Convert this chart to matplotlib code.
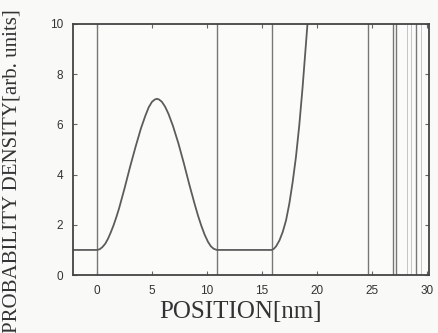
import matplotlib.pyplot as plt

# curve (position in nm, probability density)
pos = [-2.2, 0.0, 0.25, 0.5, 0.75, 1.0, 1.25, 1.5, 1.75, 2.0, 2.5, 3.0, 3.5, 4.0,
       4.4, 4.7, 5.0, 5.25, 5.45, 5.65, 5.9, 6.2, 6.5, 6.9, 7.4, 7.9, 8.4, 8.9,
       9.2, 9.5, 9.8, 10.1, 10.35, 10.6, 10.9,
       15.9, 16.1, 16.3, 16.6, 16.9, 17.2, 17.5, 17.8, 18.1, 18.4, 18.7, 19.15]
dens = [1.0, 1.0, 1.03, 1.12, 1.25, 1.45, 1.70, 1.98, 2.30, 2.65, 3.45, 4.30, 5.10, 5.85,
        6.35, 6.68, 6.90, 6.99, 7.02, 6.99, 6.90, 6.70, 6.42, 5.95, 5.25, 4.45, 3.60, 2.80,
        2.35, 1.95, 1.60, 1.32, 1.15, 1.05, 1.0,
        1.0, 1.05, 1.15, 1.38, 1.72, 2.18, 2.85, 3.70, 4.70, 5.95, 7.45, 10.0]

# layer boundaries
walls = [0.0, 10.9, 15.9, 24.7, 26.95, 27.25, 29.05]
faint_walls = [28.2, 28.6, 29.5]

xticks = [0, 5, 10, 15, 20, 25, 30]
yticks = [0, 2, 4, 6, 8, 10]

fig = plt.figure(figsize=(4.39, 3.33), dpi=100)
fig.patch.set_facecolor("#f9f9f7")
ax = fig.add_axes([0.166, 0.174, 0.811, 0.754])
ax.set_facecolor("#fbfbfa")

for w in walls:
    ax.axvline(w, color="#777777", lw=1.0)
for w in faint_walls:
    ax.axvline(w, color="#c4c4c4", lw=0.7)

ax.plot(pos, dens, color="#5c5c5c", lw=1.3)

ax.set_xlim(-2.2, 30.2)
ax.set_ylim(0, 10)
ax.set_xticks(xticks)
ax.set_yticks(yticks)
ax.set_xticklabels([str(t) for t in xticks], family="Liberation Sans", fontsize=8.5, color="#333333")
ax.set_yticklabels([str(t) for t in yticks], family="Liberation Sans", fontsize=8.5, color="#333333")
ax.tick_params(direction="in", length=3, width=0.8, color="#666666",
               top=True, right=True, pad=7)

for s in ax.spines.values():
    s.set_color("#444444")
    s.set_linewidth(1.3)

ax.set_xlabel("POSITION[nm]", family="Liberation Serif", fontsize=18, color="#333333")
ax.xaxis.set_label_coords(0.472, -0.105)
ax.xaxis.label.set_va("top")
fig.text(0.027, 0.486, "PROBABILITY DENSITY[arb. units]", family="Liberation Serif",
         fontsize=15, color="#333333", rotation=90, ha="center", va="center")

plt.savefig("out.png", dpi=100, facecolor=fig.get_facecolor())
